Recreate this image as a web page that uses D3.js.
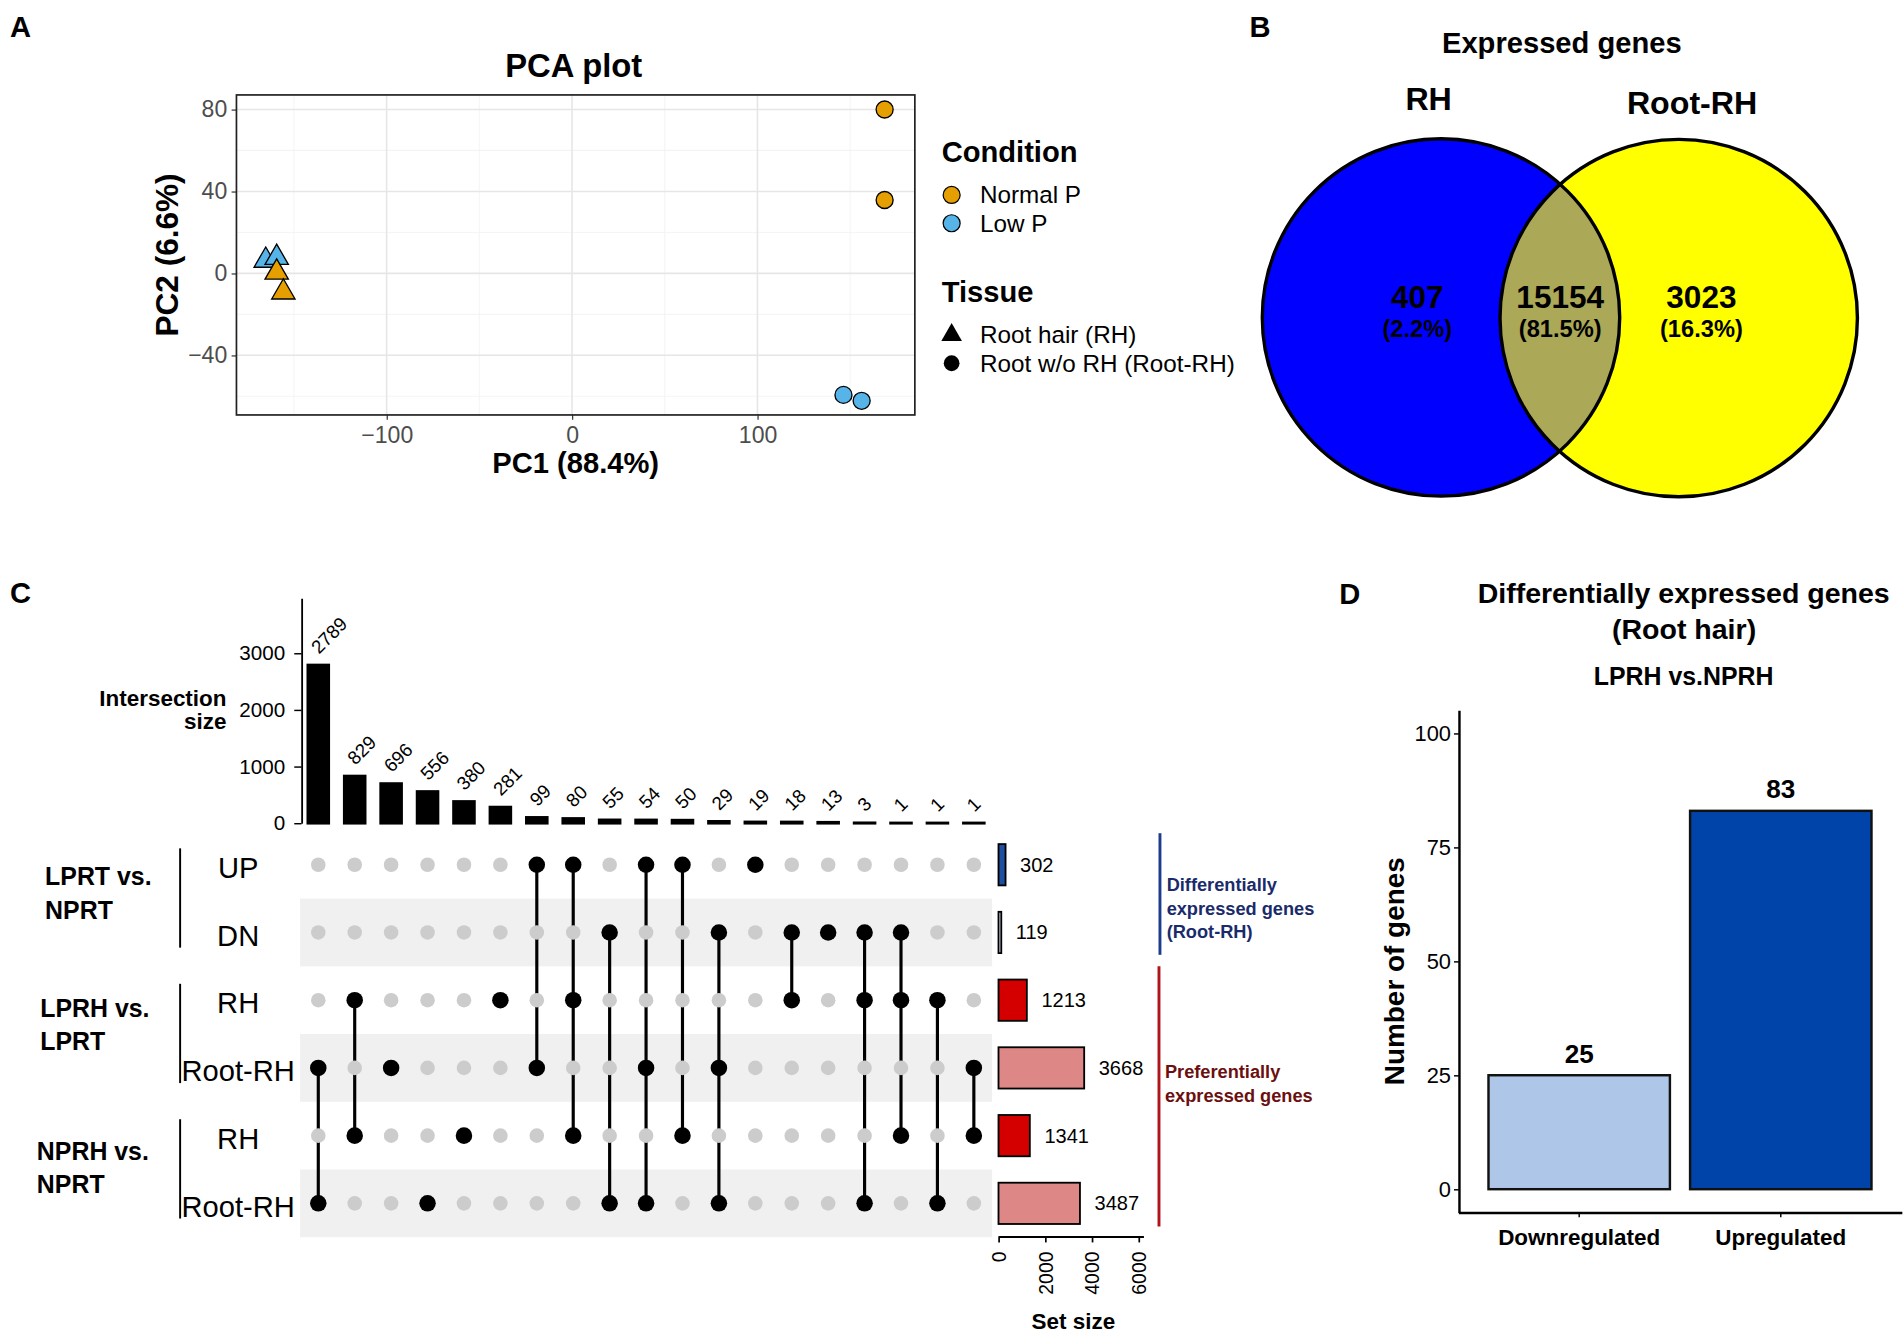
<!DOCTYPE html>
<html>
<head>
<meta charset="utf-8">
<script src="https://cdnjs.cloudflare.com/ajax/libs/d3/7.8.5/d3.min.js"></script>
<style>
  body { margin: 0; background: #fff; }
  svg { display: block; font-family: "Liberation Sans", Arial, sans-serif; }
</style>
</head>
<body>
<svg id="fig" width="1904" height="1333" viewBox="0 0 1568 1098"></svg>
<script>
// ---------- A: PCA ----------
var pcaCondition = ["Low P", "Low P", "Normal P", "Normal P", "Normal P", "Normal P", "Low P", "Low P"];
var pcaTissue = ["RH", "RH", "RH", "RH", "Root-RH", "Root-RH", "Root-RH", "Root-RH"];
var pcaPC1 = [-165.2, -159.3, -159.3, -155.7, 168.6, 168.6, 146.4, 156.2];
var pcaPC2 = [6.3, 7.7, 0.5, -9.2, 80, 35.8, -59.3, -62.2];
var conditionLevels = ["Normal P", "Low P"];
var conditionColors = ["#E69F00", "#56B4E9"];
var tissueLevels = ["Root hair (RH)", "Root w/o RH (Root-RH)"];
var pcaXTicks = [-100, 0, 100];
var pcaYTicks = [-40, 0, 40, 80];

// ---------- B: Venn ----------
var vennSets = ["RH", "Root-RH"];
var vennCounts = [407, 15154, 3023];
var vennPercents = ["(2.2%)", "(81.5%)", "(16.3%)"];

// ---------- C: UpSet ----------
var setNames = ["UP", "DN", "RH", "Root-RH", "RH", "Root-RH"];
var setSizes = [302, 119, 1213, 3668, 1341, 3487];
var setColors = ["#1E50A2", "#D9E1F2", "#D40000", "#DE8787", "#D40000", "#DE8787"];
var groupNames = [["LPRT vs.", "NPRT"], ["LPRH vs.", "LPRT"], ["NPRH vs.", "NPRT"]];
var groupRows = [[0, 1], [2, 3], [4, 5]];
var intersectionSizes = [2789, 829, 696, 556, 380, 281, 99, 80, 55, 54, 50, 29, 19, 18, 13, 3, 1, 1, 1];
var intersectionMembers = [[3, 5], [2, 4], [3], [5], [4], [2], [0, 3], [0, 2, 4], [1, 5], [0, 3, 5],
                           [0, 4], [1, 3, 5], [0], [1, 2], [1], [1, 2, 5], [1, 2, 4], [2, 5], [3, 4]];
var interTicks = [0, 1000, 2000, 3000];
var sizeTicks = [0, 2000, 4000, 6000];
var annotNames = [["Differentially", "expressed genes", "(Root-RH)"], ["Preferentially", "expressed genes"]];

// ---------- D: DEG bars ----------
var degCategories = ["Downregulated", "Upregulated"];
var degCounts = [25, 83];
var degColors = ["#AEC6E8", "#0044A9"];
var degTicks = [0, 25, 50, 75, 100];


var svg = d3.select("#fig");

function addText(g, x, y, s, fs, bold, anchor, fill) {
  return g.append("text")
    .attr("x", x).attr("y", y).attr("dy", "0.35em")
    .attr("font-size", fs)
    .attr("font-weight", bold ? "bold" : "normal")
    .attr("text-anchor", anchor || "start")
    .attr("fill", fill || "#000")
    .text(s);
}

// panel letters
addText(svg, 8, 22, "A", 24, true);
addText(svg, 1029, 22, "B", 24, true);
addText(svg, 8, 488, "C", 24, true);
addText(svg, 1103, 489, "D", 24, true);


// ======================= A =======================
var gA = svg.append("g");
var xA = d3.scaleLinear().domain([-181, 184.9]).range([194.6, 753.4]);
var yA = d3.scaleLinear().domain([-69.1, 87.1]).range([341.8, 78.2]);

// minor grid (half way between major ticks)
var minorX = pcaXTicks.map(function(v) { return v - 50; }).concat([150]);
var minorY = pcaYTicks.map(function(v) { return v - 20; }).concat([60]);
gA.selectAll(".mgx").data(minorX).enter().append("line")
  .attr("x1", xA).attr("x2", xA).attr("y1", 78.2).attr("y2", 341.8)
  .attr("stroke", "#F2F2F2").attr("stroke-width", 0.7);
gA.selectAll(".mgy").data(minorY).enter().append("line")
  .attr("y1", yA).attr("y2", yA).attr("x1", 194.6).attr("x2", 753.4)
  .attr("stroke", "#F2F2F2").attr("stroke-width", 0.7);
gA.selectAll(".gx").data(pcaXTicks).enter().append("line")
  .attr("x1", xA).attr("x2", xA).attr("y1", 78.2).attr("y2", 341.8)
  .attr("stroke", "#E6E6E6").attr("stroke-width", 1.3);
gA.selectAll(".gy").data(pcaYTicks).enter().append("line")
  .attr("y1", yA).attr("y2", yA).attr("x1", 194.6).attr("x2", 753.4)
  .attr("stroke", "#E6E6E6").attr("stroke-width", 1.3);

var axAx = gA.append("g").attr("transform", "translate(0,341.8)")
  .call(d3.axisBottom(xA).tickValues(pcaXTicks).tickSize(4).tickPadding(5.6).tickSizeOuter(0));
var axAy = gA.append("g").attr("transform", "translate(194.6,0)")
  .call(d3.axisLeft(yA).tickValues(pcaYTicks).tickSize(4).tickPadding(3.6).tickSizeOuter(0));
[axAx, axAy].forEach(function(a) {
  a.select(".domain").remove();
  a.selectAll("line").attr("stroke", "#333");
  a.selectAll("text").attr("font-size", 19).attr("fill", "#4D4D4D")
    .attr("font-family", "Liberation Sans, Arial, sans-serif");
});

gA.append("rect").attr("x", 194.6).attr("y", 78.2).attr("width", 753.4 - 194.6).attr("height", 341.8 - 78.2)
  .attr("fill", "none").attr("stroke", "#222").attr("stroke-width", 1.4);

var condColor = d3.scaleOrdinal().domain(conditionLevels).range(conditionColors);
var triSym = d3.symbol().type(d3.symbolTriangle).size(160);

var pts = d3.range(pcaPC1.length).map(function(i) {
  return { x: pcaPC1[i], y: pcaPC2[i], c: pcaCondition[i], t: pcaTissue[i] };
});
pts.forEach(function(d) {
  if (d.t === "RH") {
    gA.append("path").attr("d", triSym)
      .attr("transform", "translate(" + xA(d.x) + "," + yA(d.y) + ")")
      .attr("fill", condColor(d.c)).attr("stroke", "#000").attr("stroke-width", 1.1);
  } else {
    gA.append("circle").attr("cx", xA(d.x)).attr("cy", yA(d.y)).attr("r", 7)
      .attr("fill", condColor(d.c)).attr("stroke", "#000").attr("stroke-width", 1.1);
  }
});

addText(gA, 472.4, 54, "PCA plot", 27, true, "middle");
addText(gA, 474, 381.6, "PC1 (88.4%)", 24, true, "middle");
gA.append("text").attr("transform", "translate(137.3,210) rotate(-90)")
  .attr("dy", "0.35em").attr("text-anchor", "middle").attr("font-size", 26)
  .attr("font-weight", "bold").text("PC2 (6.6%)");

// legend
addText(gA, 775.5, 124.9, "Condition", 24, true);
conditionLevels.forEach(function(c, i) {
  var y = 160.6 + i * 23.3;
  gA.append("circle").attr("cx", 783.7).attr("cy", y).attr("r", 7)
    .attr("fill", condColor(c)).attr("stroke", "#000").attr("stroke-width", 1);
  addText(gA, 807, y, c, 20, false);
});
addText(gA, 775.5, 240.2, "Tissue", 24, true);
tissueLevels.forEach(function(t, i) {
  var y = 275.9 + i * 23.3;
  if (i === 0) {
    gA.append("path").attr("d", d3.symbol().type(d3.symbolTriangle).size(125))
      .attr("transform", "translate(783.7," + y + ")").attr("fill", "#000");
  } else {
    gA.append("circle").attr("cx", 783.7).attr("cy", y).attr("r", 6.5).attr("fill", "#000");
  }
  addText(gA, 807, y, t, 20, false);
});


// ======================= B =======================
var gB = svg.append("g");
var vennR = 147.2;
var vennC = [[1186.8, 261.5], [1382.6, 262]];
gB.append("defs").append("clipPath").attr("id", "clipBlue")
  .append("circle").attr("cx", vennC[0][0]).attr("cy", vennC[0][1]).attr("r", vennR);
gB.append("circle").attr("cx", vennC[0][0]).attr("cy", vennC[0][1]).attr("r", vennR).attr("fill", "#0000FF");
gB.append("circle").attr("cx", vennC[1][0]).attr("cy", vennC[1][1]).attr("r", vennR).attr("fill", "#FFFF00");
gB.append("circle").attr("cx", vennC[1][0]).attr("cy", vennC[1][1]).attr("r", vennR)
  .attr("fill", "#ABA857").attr("clip-path", "url(#clipBlue)");
vennC.forEach(function(c) {
  gB.append("circle").attr("cx", c[0]).attr("cy", c[1]).attr("r", vennR)
    .attr("fill", "none").attr("stroke", "#000").attr("stroke-width", 2.8);
});
addText(gB, 1286.3, 35.4, "Expressed genes", 24, true, "middle");
addText(gB, 1176.6, 81.7, vennSets[0], 26.5, true, "middle");
addText(gB, 1393.6, 84.4, vennSets[1], 26.5, true, "middle");
var vennLabelX = [1167.3, 1285, 1401.3];
vennCounts.forEach(function(v, i) {
  addText(gB, vennLabelX[i], 244.3, v, 26, true, "middle");
  addText(gB, vennLabelX[i], 270.5, vennPercents[i], 19.5, true, "middle");
});


// ======================= C =======================
var gC = svg.append("g");
var nInter = intersectionSizes.length;
var xC = d3.scaleBand().domain(d3.range(nInter)).range([247, 817])
  .paddingInner(0.433).paddingOuter(0.2167);
var colX = function(i) { return xC(i) + xC.bandwidth() / 2; };
var yC = d3.scaleLinear().domain([0, 3971]).range([678, 492.7]);
var yRow = d3.scaleBand().domain(d3.range(setNames.length)).range([684.4, 1019.1]);
var rowY = function(r) { return yRow(r) + yRow.bandwidth() / 2; };

// stripes
gC.selectAll(".stripe").data(d3.range(setNames.length).filter(function(r) { return r % 2 === 1; }))
  .enter().append("rect")
  .attr("x", 247).attr("width", 817 - 247)
  .attr("y", function(r) { return yRow(r); }).attr("height", yRow.bandwidth())
  .attr("fill", "#F0F0F0");

// intersection bars
gC.selectAll(".ibar").data(intersectionSizes).enter().append("rect")
  .attr("x", function(d, i) { return xC(i); })
  .attr("width", xC.bandwidth())
  .attr("y", function(d) { return yC(d); })
  .attr("height", function(d) { return yC(0) - yC(d); })
  .attr("fill", "#000").attr("stroke", "#000").attr("stroke-width", 2.4);

gC.selectAll(".ilab").data(intersectionSizes).enter().append("text")
  .attr("transform", function(d, i) {
    return "translate(" + (colX(i) + 0.5) + "," + (yC(d) - 8.5) + ") rotate(-45)";
  })
  .attr("font-size", 15.5).text(function(d) { return d; });

var axC = gC.append("g").attr("transform", "translate(248.2,0)")
  .call(d3.axisLeft(yC).tickValues(interTicks).tickFormat(d3.format("d"))
    .tickSize(6).tickPadding(7.5).tickSizeOuter(0));
axC.select(".domain").attr("stroke", "#000").attr("stroke-width", 1.5);
axC.selectAll("line").attr("stroke", "#000").attr("stroke-width", 1.2);
axC.selectAll("text").attr("font-size", 17).attr("fill", "#000")
  .attr("font-family", "Liberation Sans, Arial, sans-serif");
addText(gC, 186.4, 575, "Intersection", 18.5, true, "end");
addText(gC, 186.4, 594, "size", 18.5, true, "end");

// matrix lines
intersectionMembers.forEach(function(m, i) {
  if (m.length > 1) {
    gC.append("line").attr("x1", colX(i)).attr("x2", colX(i))
      .attr("y1", rowY(d3.min(m))).attr("y2", rowY(d3.max(m)))
      .attr("stroke", "#000").attr("stroke-width", 2.6);
  }
});
// matrix dots
intersectionMembers.forEach(function(m, i) {
  d3.range(setNames.length).forEach(function(r) {
    var on = m.indexOf(r) >= 0;
    gC.append("circle").attr("cx", colX(i)).attr("cy", rowY(r))
      .attr("r", on ? 6.8 : 6).attr("fill", on ? "#000" : "#CCCCCC");
  });
});

// row labels
setNames.forEach(function(s, r) {
  addText(gC, 196, rowY(r) + 2.5, s, 24, false, "middle");
});
// group labels + brackets
var groupLabelX = [37, 33, 30.2];
var groupLabelDy = [[-18, 9.4], [-21.3, 6.1], [-15.3, 12.1]];
groupRows.forEach(function(rows, k) {
  var mid = (rowY(rows[0]) + rowY(rows[1])) / 2;
  groupNames[k].forEach(function(t, j) {
    addText(gC, groupLabelX[k], mid + groupLabelDy[k][j], t, 20.5, true);
  });
  gC.append("line").attr("x1", 148.2).attr("x2", 148.2)
    .attr("y1", rowY(rows[0]) - 13.5).attr("y2", rowY(rows[1]) + 12.5)
    .attr("stroke", "#000").attr("stroke-width", 1.6);
});

// set size bars
var xS = d3.scaleLinear().domain([0, 6200]).range([822.3, 941.6]);
gC.selectAll(".sbar").data(setSizes).enter().append("rect")
  .attr("x", xS(0))
  .attr("y", function(d, r) { return rowY(r) - 17; })
  .attr("width", function(d) { return xS(d) - xS(0); })
  .attr("height", 34)
  .attr("fill", function(d, r) { return setColors[r]; })
  .attr("stroke", "#000").attr("stroke-width", 1.5);
setSizes.forEach(function(v, r) {
  addText(gC, xS(v) + 12, rowY(r), v, 16.5, false);
});
var axS = gC.append("g").attr("transform", "translate(0,1018.4)")
  .call(d3.axisBottom(xS).tickValues(sizeTicks).tickFormat(d3.format("d"))
    .tickSize(5).tickSizeOuter(0));
axS.select(".domain").attr("stroke", "#000").attr("stroke-width", 1.8);
axS.selectAll("line").attr("stroke", "#000").attr("stroke-width", 1.4);
axS.selectAll("text").attr("font-size", 16).attr("fill", "#000")
  .attr("font-family", "Liberation Sans, Arial, sans-serif")
  .attr("transform", "rotate(-90)").attr("text-anchor", "end")
  .attr("x", -12.5).attr("y", 0).attr("dy", "0.35em");
addText(gC, 884, 1088.4, "Set size", 18.5, true, "middle");

// right annotations
gC.append("line").attr("x1", 955.3).attr("x2", 955.3).attr("y1", 686.3).attr("y2", 786.5)
  .attr("stroke", "#1D3C8F").attr("stroke-width", 2.4);
annotNames[0].forEach(function(t, j) {
  addText(gC, 960.8, 728.8 + j * 19.3, t, 15, true, "start", "#1A2B6B");
});
gC.append("line").attr("x1", 954.5).attr("x2", 954.5).attr("y1", 796).attr("y2", 1010.2)
  .attr("stroke", "#B0141A").attr("stroke-width", 2.4);
annotNames[1].forEach(function(t, j) {
  addText(gC, 959.4, 882.5 + j * 20, t, 15, true, "start", "#6B0F0F");
});


// ======================= D =======================
var gD = svg.append("g");
var xD = d3.scaleBand().domain(degCategories).range([1201, 1566.3]).paddingInner(0.1).paddingOuter(0.15);
var yD = d3.scaleLinear().domain([-5.1, 105.1]).range([998.7, 584.9]);

gD.selectAll(".dbar").data(degCounts).enter().append("rect")
  .attr("x", function(d, i) { return xD(degCategories[i]); })
  .attr("width", xD.bandwidth())
  .attr("y", function(d) { return yD(d); })
  .attr("height", function(d) { return yD(0) - yD(d); })
  .attr("fill", function(d, i) { return degColors[i]; })
  .attr("stroke", "#111").attr("stroke-width", 2);
degCounts.forEach(function(v, i) {
  addText(gD, xD(degCategories[i]) + xD.bandwidth() / 2, yD(v) - 18, v, 21.5, true, "middle");
});

var axDy = gD.append("g").attr("transform", "translate(1201.5,0)")
  .call(d3.axisLeft(yD).tickValues(degTicks).tickSize(4).tickPadding(2.5).tickSizeOuter(0));
var axDx = gD.append("g").attr("transform", "translate(0,998.7)")
  .call(d3.axisBottom(xD).tickSize(4).tickPadding(9.7).tickSizeOuter(0));
[axDy, axDx].forEach(function(a) {
  a.select(".domain").attr("stroke", "#000").attr("stroke-width", 2);
  a.selectAll("line").attr("stroke", "#000").attr("stroke-width", 1.2);
  a.selectAll("text").attr("fill", "#000").attr("font-family", "Liberation Sans, Arial, sans-serif");
});
axDy.selectAll("text").attr("font-size", 18);
axDx.selectAll("text").attr("font-size", 18.5).attr("font-weight", "bold");

addText(gD, 1386.7, 488.8, "Differentially expressed genes", 23.5, true, "middle");
addText(gD, 1387, 518, "(Root hair)", 23.5, true, "middle");
addText(gD, 1386.7, 557.3, "LPRH vs.NPRH", 20.5, true, "middle");
gD.append("text").attr("transform", "translate(1148.3,800) rotate(-90)")
  .attr("dy", "0.35em").attr("text-anchor", "middle").attr("font-size", 23)
  .attr("font-weight", "bold").text("Number of genes");
</script>
</body>
</html>
